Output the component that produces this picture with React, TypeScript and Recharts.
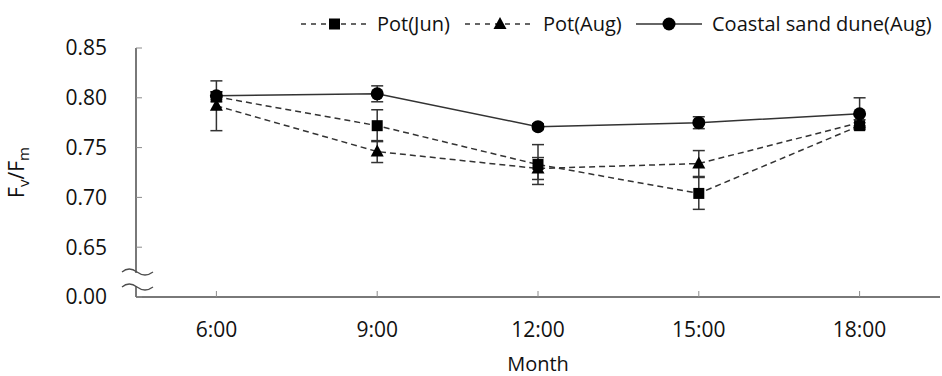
import { ComposedChart, Line, XAxis, YAxis, ErrorBar, Legend } from "recharts";

const times = ["6:00", "9:00", "12:00", "15:00", "18:00"];
const potJun = [0.801, 0.772, 0.733, 0.704, 0.772];
const potJunErr = [0.005, 0.016, 0.02, 0.016, 0.003];
const potAug = [0.792, 0.746, 0.729, 0.734, 0.775];
const potAugErr = [0.025, 0.011, 0.011, 0.013, 0.003];
const dune = [0.802, 0.804, 0.771, 0.775, 0.784];
const duneErr = [0.004, 0.008, 0.003, 0.006, 0.016];
const yTicks = [0.6, 0.65, 0.7, 0.75, 0.8, 0.85];

const data = times.map((t, i) => ({
  time: t,
  jun: potJun[i],
  junErr: potJunErr[i],
  aug: potAug[i],
  augErr: potAugErr[i],
  dune: dune[i],
  duneErr: duneErr[i],
}));

const W = 942;
const H = 376;
const FONT = "'Open Sans', sans-serif";
const LINE = "#333";
const AXIS = "#4d4d4d";
const TEXT = "#111";

const Square = (p: any) =>
  p.cx == null ? null : (
    <rect key={p.key} x={p.cx - 5.5} y={p.cy - 5.5} width={11} height={11} fill="#000" />
  );
const Triangle = (p: any) =>
  p.cx == null ? null : (
    <polygon
      key={p.key}
      points={`${p.cx},${p.cy - 7} ${p.cx - 6.5},${p.cy + 5} ${p.cx + 6.5},${p.cy + 5}`}
      fill="#000"
    />
  );
const Circle = (p: any) =>
  p.cx == null ? null : <circle key={p.key} cx={p.cx} cy={p.cy} r={6.5} fill="#000" />;

function LegendContent() {
  const items = [
    { name: "Pot(Jun)", x1: 301, x2: 368, dash: "5 5", shape: "square", tx: 377 },
    { name: "Pot(Aug)", x1: 465, x2: 535, dash: "5 5", shape: "triangle", tx: 543 },
    { name: "Coastal sand dune(Aug)", x1: 636, x2: 702, dash: undefined, shape: "circle", tx: 712 },
  ];
  const cy = 16;
  return (
    <svg width={W} height={40} style={{ display: "block" }}>
      {items.map((it) => {
        const mx = (it.x1 + it.x2) / 2;
        return (
          <g key={it.name}>
            <line x1={it.x1} x2={it.x2} y1={cy} y2={cy} stroke={LINE} strokeWidth={1.5} strokeDasharray={it.dash} />
            {it.shape === "square" && <Square cx={mx} cy={cy} />}
            {it.shape === "triangle" && <Triangle cx={mx} cy={cy} />}
            {it.shape === "circle" && <Circle cx={mx} cy={cy} />}
            <text x={it.tx} y={cy + 7} fontSize={20} fontFamily={FONT} fill={TEXT}>
              {it.name}
            </text>
          </g>
        );
      })}
    </svg>
  );
}

function YLabel(props: any) {
  const vb = props.viewBox || { x: 0, y: 48, width: 136, height: 249 };
  const x = vb.x + 24;
  const y = vb.y + vb.height / 2;
  return (
    <text
      x={x}
      y={y}
      transform={`rotate(-90, ${x}, ${y})`}
      textAnchor="middle"
      fontSize={21}
      fontFamily={FONT}
      fill={TEXT}
    >
      F<tspan dy={5} fontSize={15}>v</tspan>
      <tspan dy={-5}>/F</tspan>
      <tspan dy={5} fontSize={15}>m</tspan>
    </text>
  );
}

export default function App() {
  return (
    <div style={{ position: "absolute", left: 0, top: 0, width: W, height: H }}>
      <ComposedChart width={W} height={H} data={data} margin={{ top: 8, right: 2, left: 0, bottom: 0 }}>
        <Legend
          verticalAlign="top"
          content={<LegendContent />}
          wrapperStyle={{ left: 0, top: 8, width: W, height: 40 }}
        />
        <XAxis
          dataKey="time"
          scale="band"
          height={79}
          tick={{ fontSize: 21, fontFamily: FONT, fill: TEXT }}
          tickSize={-6}
          tickMargin={31}
          tickLine={{ stroke: "#8c8c8c" }}
          axisLine={{ stroke: AXIS, strokeWidth: 1.5 }}
          label={{ value: "Month", position: "insideBottom", offset: 5, fontSize: 20, fontFamily: FONT, fill: TEXT }}
        />
        <XAxis xAxisId="top" dataKey="time" scale="band" orientation="top" height={0} tick={false} tickLine={false} axisLine={{ stroke: AXIS, strokeWidth: 1.5 }} />
        <YAxis
          domain={[0.6, 0.85]}
          ticks={yTicks}
          interval={0}
          width={136}
          tickSize={-6}
          tickMargin={35}
          tickFormatter={(v: number) => (Math.abs(v - 0.6) < 1e-9 ? "0.00" : v.toFixed(2))}
          tick={{ fontSize: 21, fontFamily: FONT, fill: TEXT }}
          tickLine={{ stroke: "#8c8c8c" }}
          axisLine={{ stroke: AXIS, strokeWidth: 1.5 }}
          label={<YLabel />}
        />
        <YAxis yAxisId="right" orientation="right" width={0} domain={[0.6, 0.85]} tick={false} tickLine={false} axisLine={{ stroke: AXIS, strokeWidth: 1.5 }} />
        <Line
          dataKey="jun"
          stroke={LINE}
          strokeWidth={1.5}
          strokeDasharray="6 4"
          dot={Square}
          activeDot={false}
          isAnimationActive={false}
        >
          <ErrorBar dataKey="junErr" width={6} stroke={LINE} strokeWidth={1.5} direction="y" isAnimationActive={false} />
        </Line>
        <Line
          dataKey="aug"
          stroke={LINE}
          strokeWidth={1.5}
          strokeDasharray="6 4"
          dot={Triangle}
          activeDot={false}
          isAnimationActive={false}
        >
          <ErrorBar dataKey="augErr" width={6} stroke={LINE} strokeWidth={1.5} direction="y" isAnimationActive={false} />
        </Line>
        <Line
          dataKey="dune"
          stroke={LINE}
          strokeWidth={1.5}
          dot={Circle}
          activeDot={false}
          isAnimationActive={false}
        >
          <ErrorBar dataKey="duneErr" width={6} stroke={LINE} strokeWidth={1.5} direction="y" isAnimationActive={false} />
        </Line>
      </ComposedChart>
      {/* axis break marks */}
      <svg width={W} height={H} style={{ position: "absolute", left: 0, top: 0, pointerEvents: "none" }}>
        <rect x={132} y={273} width={8} height={13} fill="#fff" />
        <path d="M122 272 Q129 266 137 272 T153 272" fill="none" stroke={AXIS} strokeWidth={1.3} />
        <path d="M122 287 Q129 281 137 287 T153 287" fill="none" stroke={AXIS} strokeWidth={1.3} />
      </svg>
    </div>
  );
}
